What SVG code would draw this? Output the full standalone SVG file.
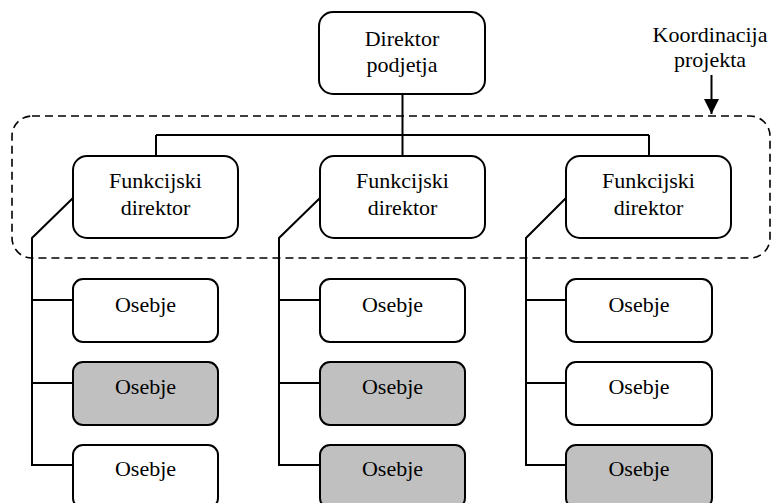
<svg xmlns="http://www.w3.org/2000/svg" width="773" height="503" viewBox="0 0 773 503">
  <defs>
    <style>
      .box { fill: #ffffff; stroke: #000000; stroke-width: 2; }
      .grey { fill: #c0c0c0; }
      .wire { fill: none; stroke: #000000; stroke-width: 2; }
      .zone { fill: none; stroke: #000000; stroke-width: 1.6; stroke-dasharray: 8 5; }
      .label { font-family: 'Liberation Serif', 'DejaVu Serif', serif; font-size: 22px; fill: #000000; text-anchor: middle; }
    </style>
    <marker id="arrowhead" markerWidth="16" markerHeight="16" refX="15" refY="7.5" orient="auto" markerUnits="userSpaceOnUse">
      <path d="M0,0 L15,7.5 L0,15 Z" fill="#000000"/>
    </marker>
  </defs>

  <!-- project coordination zone -->
  <g id="coordination">
    <rect class="zone" x="12" y="116" width="758" height="142" rx="20" ry="20"/>
    <text class="label" font-family="Liberation Serif, serif" x="710" y="42">Koordinacija</text>
    <text class="label" font-family="Liberation Serif, serif" x="710" y="67">projekta</text>
    <line class="wire" x1="711.5" y1="75" x2="711.5" y2="114" marker-end="url(#arrowhead)"/>
  </g>

  <!-- connectors -->
  <g id="connectors" class="wire">
    <path d="M402.5,94 V135 M156,135 H649 M156,135 V156 M402.5,135 V156 M649,135 V156"/>
    <path d="M73,198 L32,238 V465 H73 M32,300 H73 M32,383 H73"/>
    <path d="M320,198 L279,238 V465 H320 M279,300 H320 M279,383 H320"/>
    <path d="M566,198 L526,238 V465 H566 M526,300 H566 M526,383 H566"/>
  </g>

  <g id="director">
    <rect class="box" x="319" y="12" width="166" height="82" rx="14" ry="14"/>
    <text class="label" x="402" y="46">Direktor</text>
    <text class="label" x="402" y="72">podjetja</text>
  </g>

  <g id="functional-1">
    <rect class="box" x="73" y="156" width="165" height="82" rx="14" ry="14"/>
    <text class="label" x="155.5" y="188">Funkcijski</text>
    <text class="label" x="155.5" y="215">direktor</text>
  </g>
  <g id="functional-2">
    <rect class="box" x="320" y="156" width="165" height="82" rx="14" ry="14"/>
    <text class="label" x="402.5" y="188">Funkcijski</text>
    <text class="label" x="402.5" y="215">direktor</text>
  </g>
  <g id="functional-3">
    <rect class="box" x="566" y="156" width="165" height="82" rx="14" ry="14"/>
    <text class="label" x="648.5" y="188">Funkcijski</text>
    <text class="label" x="648.5" y="215">direktor</text>
  </g>

  <!-- staff, column 1 -->
  <g id="staff-1-1">
    <rect class="box" x="73" y="279" width="145" height="63" rx="10" ry="10"/>
    <text class="label" x="145.5" y="312">Osebje</text>
  </g>
  <g id="staff-1-2">
    <rect class="box grey" x="73" y="362" width="145" height="63" rx="10" ry="10"/>
    <text class="label" x="145.5" y="394">Osebje</text>
  </g>
  <g id="staff-1-3">
    <rect class="box" x="73" y="445" width="145" height="63" rx="10" ry="10"/>
    <text class="label" x="145.5" y="476">Osebje</text>
  </g>

  <!-- staff, column 2 -->
  <g id="staff-2-1">
    <rect class="box" x="320" y="279" width="145" height="63" rx="10" ry="10"/>
    <text class="label" x="392.5" y="312">Osebje</text>
  </g>
  <g id="staff-2-2">
    <rect class="box grey" x="320" y="362" width="145" height="63" rx="10" ry="10"/>
    <text class="label" x="392.5" y="394">Osebje</text>
  </g>
  <g id="staff-2-3">
    <rect class="box grey" x="320" y="445" width="145" height="63" rx="10" ry="10"/>
    <text class="label" x="392.5" y="476">Osebje</text>
  </g>

  <!-- staff, column 3 -->
  <g id="staff-3-1">
    <rect class="box" x="566" y="279" width="146" height="63" rx="10" ry="10"/>
    <text class="label" x="639" y="312">Osebje</text>
  </g>
  <g id="staff-3-2">
    <rect class="box" x="566" y="362" width="146" height="63" rx="10" ry="10"/>
    <text class="label" x="639" y="394">Osebje</text>
  </g>
  <g id="staff-3-3">
    <rect class="box grey" x="566" y="445" width="146" height="63" rx="10" ry="10"/>
    <text class="label" x="639" y="476">Osebje</text>
  </g>
</svg>
